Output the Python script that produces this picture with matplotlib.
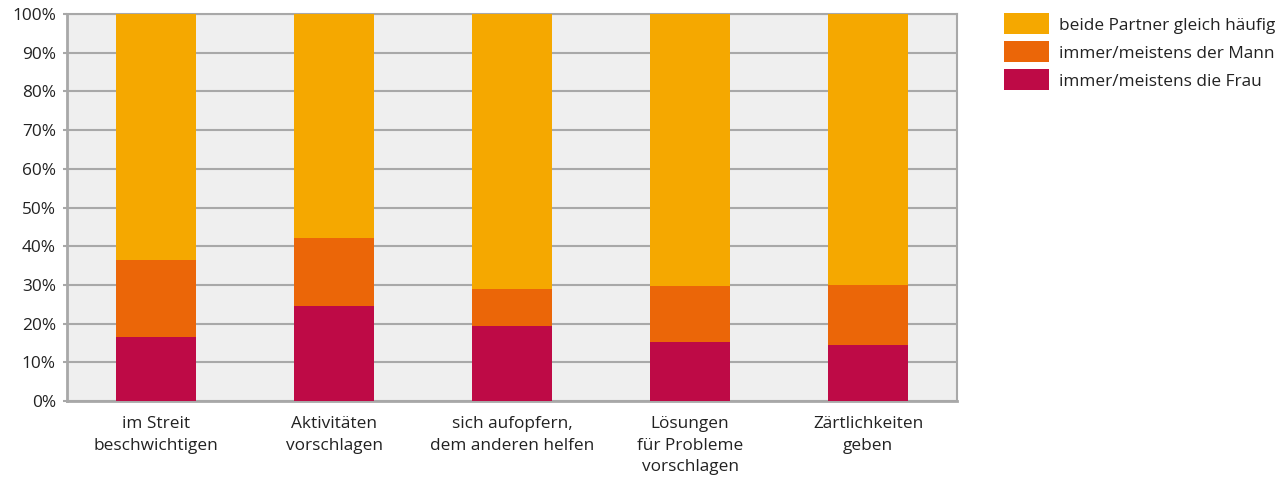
import matplotlib
matplotlib.use("Agg")
import matplotlib.pyplot as plt
from matplotlib.patches import Rectangle
import numpy as np

categories = [
    "im Streit\nbeschwichtigen",
    "Aktivitäten\nvorschlagen",
    "sich aufopfern,\ndem anderen helfen",
    "Lösungen\nfür Probleme\nvorschlagen",
    "Zärtlichkeiten\ngeben",
]
frau = [16.5, 24.5, 19.4, 15.2, 14.5]
mann = [19.9, 17.6, 9.5, 14.5, 15.4]
beide = [100 - f - m for f, m in zip(frau, mann)]

series_labels = [
    "immer/meistens die Frau",
    "immer/meistens der Mann",
    "beide Partner gleich häufig",
]
colors = ["#BE0A46", "#EB6608", "#F5A800"]
yticks = [0, 10, 20, 30, 40, 50, 60, 70, 80, 90, 100]

plt.rcParams["font.family"] = ["Open Sans", "DejaVu Sans"]
text_color = "#222222"
grid_color = "#A8A8A8"
fs = 12.4

W, H = 1283, 480
fig = plt.figure(figsize=(W / 100, H / 100), dpi=100)
ax = fig.add_axes([67 / W, 1 - 401 / H, (957 - 67) / W, (401 - 14) / H])
ax.set_facecolor("#EFEFEF")

x = np.arange(len(categories))
width = 0.455
bottom = np.zeros(len(categories))
for vals, col, lab in zip([frau, mann, beide], colors, series_labels):
    ax.bar(x, vals, width, bottom=bottom, color=col, label=lab, zorder=3, linewidth=0)
    bottom += np.array(vals)

ax.set_xlim(-0.5, len(categories) - 0.5)
ax.set_ylim(0, 100)
ax.set_yticks(yticks)
ax.set_yticklabels([f"{v}%" for v in yticks])
ax.set_xticks(x)
ax.set_xticklabels(categories, linespacing=1.45)
ax.yaxis.grid(True, color=grid_color, linewidth=1.5, zorder=1)
ax.set_axisbelow(True)

for side in ["left", "bottom", "right", "top"]:
    ax.spines[side].set_color(grid_color)
ax.spines["left"].set_linewidth(2)
ax.spines["bottom"].set_linewidth(2)
ax.spines["right"].set_linewidth(1.5)
ax.spines["top"].set_linewidth(1.5)

ax.tick_params(axis="y", length=3, width=1.5, color=grid_color, labelsize=fs,
               labelcolor=text_color, pad=5)
ax.tick_params(axis="x", length=0, labelsize=fs, labelcolor=text_color, pad=11)

# Legend: colour swatches with labels, top entry first
sw_x, sw_w, sw_h, row_top, row_step = 1004, 45, 21, 13, 28
for i, (col, lab) in enumerate(zip(colors[::-1], series_labels[::-1])):
    top = row_top + i * row_step
    fig.add_artist(Rectangle((sw_x / W, 1 - (top + sw_h) / H), sw_w / W, sw_h / H,
                             transform=fig.transFigure, color=col, linewidth=0))
    fig.text(1059 / W, 1 - (top + sw_h / 2 + 0.5) / H, lab, fontsize=fs,
             color=text_color, va="center_baseline", ha="left")

fig.savefig("out.png", dpi=100)
